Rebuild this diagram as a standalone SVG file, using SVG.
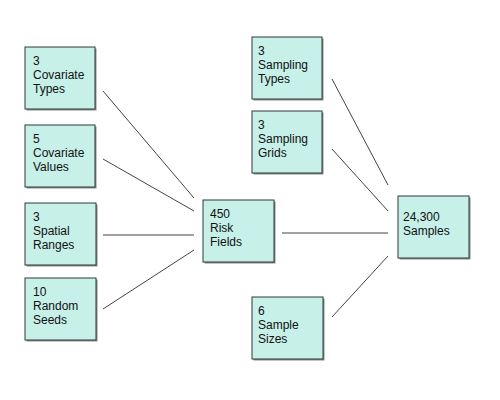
<svg xmlns="http://www.w3.org/2000/svg" width="500" height="400" viewBox="0 0 500 400">
<style>
.sh{fill:#8a8a8a}
.bx{fill:#c6f0e8;stroke:#2e3b3b;stroke-width:1}
.t{font-family:"Liberation Sans",Arial,sans-serif;font-size:12px;fill:#111}
.ln{stroke:#444;stroke-width:1;fill:none}
</style>
<rect width="500" height="400" fill="#fff"/>
<g id="connectors">
<line class="ln" x1="103" y1="91" x2="194" y2="198"/>
<line class="ln" x1="103" y1="159" x2="194" y2="211"/>
<line class="ln" x1="103" y1="235" x2="194" y2="235"/>
<line class="ln" x1="103" y1="309" x2="194" y2="250"/>
<line class="ln" x1="282" y1="233" x2="388" y2="233"/>
<line class="ln" x1="332" y1="79" x2="388" y2="185"/>
<line class="ln" x1="332" y1="149" x2="388" y2="211"/>
<line class="ln" x1="332" y1="317" x2="388" y2="256"/>
</g>
<g id="covariate-types">
<rect class="sh" x="26.5" y="48.5" width="70" height="62"/>
<rect class="bx" x="25" y="47" width="70" height="62"/>
<text class="t" x="33" y="65">3</text><text class="t" x="33" y="79">Covariate</text><text class="t" x="33" y="93">Types</text>
</g>
<g id="covariate-values">
<rect class="sh" x="26.5" y="126.5" width="70" height="62"/>
<rect class="bx" x="25" y="125" width="70" height="62"/>
<text class="t" x="33" y="143">5</text><text class="t" x="33" y="157">Covariate</text><text class="t" x="33" y="171">Values</text>
</g>
<g id="spatial-ranges">
<rect class="sh" x="26.5" y="204.5" width="71" height="62"/>
<rect class="bx" x="25" y="203" width="71" height="62"/>
<text class="t" x="33" y="221">3</text><text class="t" x="33" y="235">Spatial</text><text class="t" x="33" y="249">Ranges</text>
</g>
<g id="random-seeds">
<rect class="sh" x="26.5" y="279.5" width="71" height="62"/>
<rect class="bx" x="25" y="278" width="71" height="62"/>
<text class="t" x="33" y="296">10</text><text class="t" x="33" y="310">Random</text><text class="t" x="33" y="324">Seeds</text>
</g>
<g id="risk-fields">
<rect class="sh" x="204.5" y="201.5" width="71" height="62"/>
<rect class="bx" x="203" y="200" width="71" height="62"/>
<text class="t" x="210" y="218">450</text><text class="t" x="210" y="232">Risk</text><text class="t" x="210" y="246">Fields</text>
</g>
<g id="sampling-types">
<rect class="sh" x="253.5" y="38.5" width="70" height="62"/>
<rect class="bx" x="252" y="37" width="70" height="62"/>
<text class="t" x="258" y="55">3</text><text class="t" x="258" y="69">Sampling</text><text class="t" x="258" y="83">Types</text>
</g>
<g id="sampling-grids">
<rect class="sh" x="253.5" y="112.5" width="70" height="62"/>
<rect class="bx" x="252" y="111" width="70" height="62"/>
<text class="t" x="258" y="129">3</text><text class="t" x="258" y="143">Sampling</text><text class="t" x="258" y="157">Grids</text>
</g>
<g id="sample-sizes">
<rect class="sh" x="253.5" y="298.5" width="71" height="62"/>
<rect class="bx" x="252" y="297" width="71" height="62"/>
<text class="t" x="258" y="315">6</text><text class="t" x="258" y="329">Sample</text><text class="t" x="258" y="343">Sizes</text>
</g>
<g id="samples">
<rect class="sh" x="399.5" y="197.5" width="71" height="62"/>
<rect class="bx" x="398" y="196" width="71" height="62"/>
<text class="t" x="403" y="221">24,300</text><text class="t" x="403" y="235">Samples</text>
</g>
</svg>
